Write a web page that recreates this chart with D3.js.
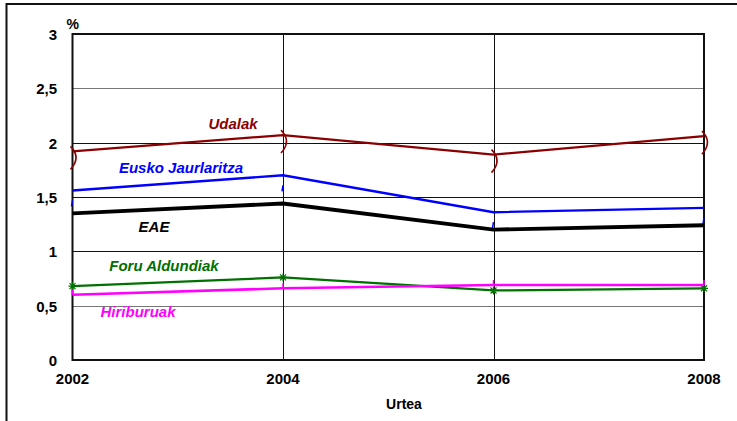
<body style="margin:0;background:#fff"></body>
<script src="https://cdn.jsdelivr.net/npm/d3@7"></script>
<script>
const years = [2002, 2004, 2006, 2008];
const yTicks = [0, 0.5, 1, 1.5, 2, 2.5, 3];
const udalak = [1.92, 2.07, 1.89, 2.06];
const eusko = [1.56, 1.70, 1.36, 1.40];
const eae = [1.35, 1.44, 1.20, 1.24];
const foru = [0.68, 0.76, 0.64, 0.66];
const hiri = [0.60, 0.66, 0.69, 0.69];

const series = [
  {name: "Udalak", values: udalak, color: "#8b0000", width: 2.2, marker: "paren", lx: 233, ly: 129},
  {name: "Eusko Jaurlaritza", values: eusko, color: "#0000ff", width: 2.4, marker: "below", lx: 181, ly: 173},
  {name: "EAE", values: eae, color: "#000000", width: 3.8, marker: null, lx: 154, ly: 232},
  {name: "Foru Aldundiak", values: foru, color: "#007000", width: 2.2, marker: "star", lx: 164, ly: 271},
  {name: "Hiriburuak", values: hiri, color: "#ff00ff", width: 2.6, marker: "above", lx: 138, ly: 317}
];

const W = 737, H = 421;
const font = "Liberation Sans, Arial, sans-serif";
const svg = d3.select("body").append("svg").attr("width", W).attr("height", H);

// outer frame
svg.append("rect").attr("x", 6.5).attr("y", 4).attr("width", W + 10).attr("height", H + 10)
  .attr("fill", "none").attr("stroke", "#111").attr("stroke-width", 2);

const x = d3.scaleLinear().domain([2002, 2008]).range([72.5, 704]);
const y = d3.scaleLinear().domain([0, 3]).range([360, 34]);

// horizontal grid
svg.append("g").selectAll("line").data(yTicks.filter(d => d > 0 && d < 3)).enter().append("line")
  .attr("x1", x(2002)).attr("x2", x(2008))
  .attr("y1", d => Math.round(y(d)) + 0.5).attr("y2", d => Math.round(y(d)) + 0.5)
  .attr("stroke", d => (d === 2.5 || d === 0.5) ? "#777" : "#111").attr("stroke-width", 1);

// vertical grid
svg.append("g").selectAll("line").data(years.slice(1, 3)).enter().append("line")
  .attr("x1", d => Math.round(x(d)) + 0.5).attr("x2", d => Math.round(x(d)) + 0.5)
  .attr("y1", y(3)).attr("y2", y(0))
  .attr("stroke", "#111").attr("stroke-width", 1);

// plot border
svg.append("rect").attr("x", x(2002)).attr("y", y(3))
  .attr("width", x(2008) - x(2002)).attr("height", y(0) - y(3))
  .attr("fill", "none").attr("stroke", "#111").attr("stroke-width", 2);

// y tick labels
svg.append("g").selectAll("text").data(yTicks).enter().append("text")
  .attr("x", 57).attr("y", d => y(d) + 6)
  .attr("text-anchor", "end").attr("font-family", font).attr("font-weight", "bold")
  .attr("font-size", 15).text(d => String(d).replace(".", ","));

svg.append("text").attr("x", 66.5).attr("y", 29).attr("font-family", font)
  .attr("font-weight", "bold").attr("font-size", 14).text("%");

// x tick labels
svg.append("g").selectAll("text").data(years).enter().append("text")
  .attr("x", d => x(d)).attr("y", 384)
  .attr("text-anchor", "middle").attr("font-family", font).attr("font-weight", "bold")
  .attr("font-size", 15).text(d => d);

svg.append("text").attr("x", 404).attr("y", 409).attr("text-anchor", "middle")
  .attr("font-family", font).attr("font-weight", "bold").attr("font-size", 14).text("Urtea");

const line = d3.line().x((d, i) => x(years[i])).y(d => y(d));

series.forEach(s => {
  svg.append("path").datum(s.values).attr("d", line)
    .attr("fill", "none").attr("stroke", s.color).attr("stroke-width", s.width)
    .attr("stroke-linejoin", "miter");

  const g = svg.append("g");
  s.values.forEach((v, i) => {
    const px = x(years[i]), py = y(v);
    if (s.marker === "paren") {
      g.append("path")
        .attr("d", `M${px - 2},${py - 5} Q${px + 9},${py + 6} ${px - 2},${py + 18}`)
        .attr("fill", "none").attr("stroke", s.color).attr("stroke-width", 1.6);
    } else if (s.marker === "star") {
      g.append("path")
        .attr("d", `M${px - 4},${py} L${px + 4},${py} M${px},${py - 4} L${px},${py + 4} M${px - 3},${py - 3} L${px + 3},${py + 3} M${px - 3},${py + 3} L${px + 3},${py - 3}`)
        .attr("stroke", s.color).attr("stroke-width", 1.2);
    } else if (s.marker === "below") {
      g.append("line").attr("x1", px - 1).attr("x2", px)
        .attr("y1", py + 16).attr("y2", py + 10)
        .attr("stroke", s.color).attr("stroke-width", 1.5);
    } else if (s.marker === "above") {
      g.append("line").attr("x1", px).attr("x2", px)
        .attr("y1", py - 5).attr("y2", py)
        .attr("stroke", s.color).attr("stroke-width", 1.5);
    }
  });

  svg.append("text").attr("x", s.lx).attr("y", s.ly).attr("text-anchor", "middle")
    .attr("font-family", font).attr("font-weight", "bold").attr("font-style", "italic")
    .attr("font-size", 15).attr("fill", s.color).text(s.name);
});
</script>
